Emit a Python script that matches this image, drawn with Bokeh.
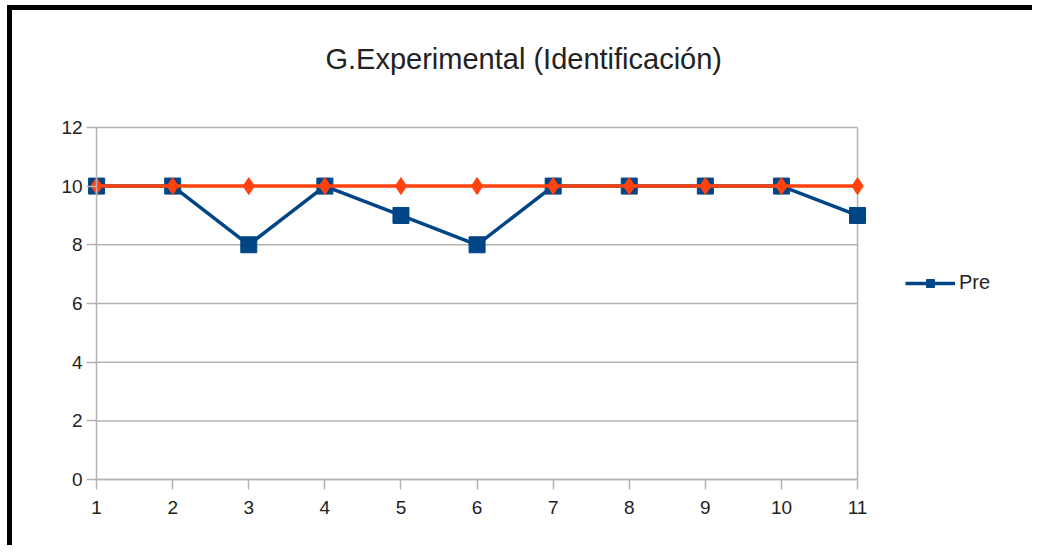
from bokeh.plotting import figure
from bokeh.models import Range1d, Legend, LegendItem, FixedTicker, Title
from bokeh.embed import file_html
from bokeh.resources import INLINE

sessions = [1, 2, 3, 4, 5, 6, 7, 8, 9, 10, 11]
pre = [10, 10, 8, 10, 9, 8, 10, 10, 10, 10, 9]
maximo = [10, 10, 10, 10, 10, 10, 10, 10, 10, 10, 10]
y_ticks = [0, 2, 4, 6, 8, 10, 12]

BLUE = "#004586"
RED = "#ff420e"
GRID = "#b3b3b3"
FONT = "Liberation Sans"

x_first, x_last = sessions[0], sessions[-1]
y_low, y_high = y_ticks[0], y_ticks[-1]

p = figure(width=1025, height=540, output_backend="svg", toolbar_location=None,
           x_range=Range1d(0.0, 13.273), y_range=Range1d(-1.564, 12.78),
           min_border_left=8, min_border_right=7, min_border_top=0, min_border_bottom=25,
           styles={"border-left": "5px solid black", "border-top": "5px solid black",
                   "margin-left": "7px", "margin-top": "5px"})

p.title = Title(text="G.Experimental (Identificación)", align="left", offset=305,
                text_font=FONT, text_font_size="29px", text_font_style="normal",
                text_color="#222222", standoff=60)

p.outline_line_color = None
p.xgrid.grid_line_color = None
p.ygrid.grid_line_color = None

# grid lines of the plot area (horizontal at each y tick, right border at last session)
p.segment(x0=[x_first] * len(y_ticks), x1=[x_last] * len(y_ticks), y0=y_ticks, y1=y_ticks,
          line_color=GRID, line_width=1.5)
p.segment(x0=[x_last], x1=[x_last], y0=[y_low], y1=[y_high], line_color=GRID, line_width=1.5)

p.yaxis.ticker = FixedTicker(ticks=y_ticks)
p.yaxis.fixed_location = x_first
p.yaxis.bounds = (y_low, y_high)
p.xaxis.ticker = FixedTicker(ticks=sessions)
p.xaxis.fixed_location = y_low
p.xaxis.bounds = (x_first, x_last)
for ax in (p.xaxis[0], p.yaxis[0]):
    ax.axis_line_color = GRID
    ax.axis_line_width = 1.5
    ax.major_tick_line_color = GRID
    ax.major_tick_line_width = 1.5
    ax.minor_tick_line_color = None
    ax.major_tick_in = 0
    ax.major_label_text_font = FONT
    ax.major_label_text_font_size = "19px"
    ax.major_label_text_color = "#222222"
p.yaxis.major_tick_out = 10
p.xaxis.major_tick_out = 10
p.xaxis.major_label_standoff = 11
p.yaxis.major_label_standoff = 4

l1 = p.line(sessions, pre, line_color=BLUE, line_width=3.5)
m1 = p.scatter(sessions, pre, marker="square", size=16, fill_color=BLUE, line_color=BLUE)
p.line(sessions, maximo, line_color=RED, line_width=3.5)
p.scatter(sessions, maximo, marker="diamond", size=17, fill_color=RED, line_color=RED)

legend = Legend(items=[LegendItem(label="Pre", renderers=[l1, m1])],
                location=(885, 231), border_line_color=None, background_fill_alpha=0,
                glyph_width=50, glyph_height=20, label_text_font=FONT,
                label_text_font_size="20px", label_text_color="#222222",
                label_standoff=4, padding=0, margin=0)
p.add_layout(legend, "center")

open("out.html", "w").write(file_html(p, INLINE))
